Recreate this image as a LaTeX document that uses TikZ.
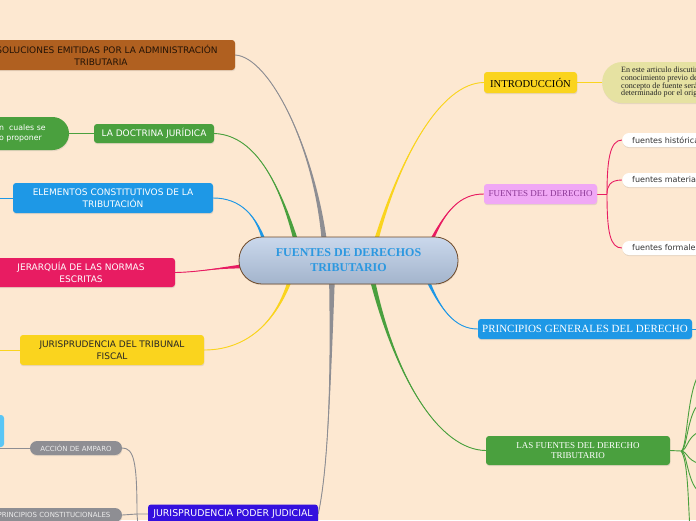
\documentclass[tikz,border=0pt]{standalone}
\usepackage{fontspec}
\setmainfont{Liberation Serif}
\newfontfamily\mmsans{DejaVu Sans}
\usetikzlibrary{calc,shadows}

\definecolor{paperpeach}{RGB}{253,232,209}
\definecolor{mmgray}{RGB}{142,142,147}
\definecolor{mmgreen}{RGB}{74,160,62}
\definecolor{mmblue}{RGB}{30,152,230}
\definecolor{mmpink}{RGB}{232,28,98}
\definecolor{mmyellow}{RGB}{250,212,30}
\definecolor{mmbrown}{RGB}{176,96,32}
\definecolor{mmindigo}{RGB}{52,16,222}
\definecolor{mmlilac}{RGB}{240,168,245}
\definecolor{mmkhaki}{RGB}{230,226,162}
\definecolor{mmsky}{RGB}{90,198,245}
\definecolor{hubtop}{RGB}{202,216,236}
\definecolor{hubbot}{RGB}{163,180,204}
\definecolor{hubline}{RGB}{110,74,42}
\definecolor{hubtext}{RGB}{44,152,224}
\definecolor{lilactext}{RGB}{140,56,150}

\pgfdeclarelayer{paper}
\pgfdeclarelayer{links}
\pgfsetlayers{paper,links,main}

% tapered branch: colour, root, half width, control 1, control 2, target
\newcommand\twig[6]{%
  \fill[#1] ($(#2)+(#3)$) .. controls #4 and #5 .. (#6) .. controls #5 and #4 .. ($(#2)-(#3)$) -- cycle;
  \draw[#1, line width=0.9pt] (#2) .. controls #4 and #5 .. (#6);}

\begin{document}
\begin{tikzpicture}[x=1pt, y=-1pt,
    softshadow/.style={drop shadow={shadow xshift=0.4pt, shadow yshift=-1.2pt, opacity=0.18}},
    topic/.style={rounded corners=3pt, inner sep=0pt, align=center, text=white, softshadow,
      font=\mmsans\fontsize{9}{12}\selectfont},
    sertopic/.style={topic, font=\fontsize{9}{10.5}\selectfont},
    pill/.style={rounded corners=7pt, inner sep=0pt, fill=mmgray, text=white!92!black, softshadow,
      minimum height=14pt, font=\mmsans\fontsize{7}{8}\selectfont},
    leaf/.style={fill=white, rounded corners=7pt, inner xsep=10pt, inner ysep=0pt, minimum height=14pt,
      anchor=west, text=black!80, softshadow, font=\mmsans\fontsize{8}{9}\selectfont},
    link/.style={line width=0.9pt}
  ]
    \useasboundingbox (0,0) rectangle (696,520);
    \begin{pgfonlayer}{paper}
      \fill[paperpeach] (0,0) rectangle (696,520);
    \end{pgfonlayer}

    % --- centro ---
    \node[rounded corners=23pt, minimum width=219pt, minimum height=47pt, inner sep=0pt,
      top color=hubtop, bottom color=hubbot, draw=hubline, line width=0.8pt, softshadow,
      align=center, text=hubtext, font=\bfseries\fontsize{12}{15}\selectfont]
      (hub) at (348.5,260.5) {FUENTES DE DERECHOS\\TRIBUTARIO};

    % --- izquierda ---
    \node[topic, fill=mmbrown, text=black!80!mmbrown, minimum width=268pt, minimum height=30pt]
      (resol) at (101,55) {RESOLUCIONES EMITIDAS POR LA ADMINISTRACIÓN\\TRIBUTARIA};
    \node[topic, fill=mmgreen, minimum width=120pt, minimum height=19pt]
      (doctrina) at (154,133.5) {LA DOCTRINA JURÍDICA};
    \node[rounded corners=16.5pt, fill=mmgreen, text=white, softshadow, inner sep=0pt,
      minimum height=33pt, text width=114pt, align=left, font=\mmsans\fontsize{7.8}{10}\selectfont]
      (cuales) at (12,133.5) {\hspace*{44pt}n\ \ cuales se\\\hspace*{44pt}o proponer};
    \node[topic, fill=mmblue, minimum width=200pt, minimum height=30pt]
      (elementos) at (113,198) {ELEMENTOS CONSTITUTIVOS DE LA\\TRIBUTACIÓN};
    \node[topic, fill=mmpink, minimum width=188pt, minimum height=29pt]
      (jerarquia) at (81,272.5) {JERARQUÍA DE LAS NORMAS\\ESCRITAS};
    \node[topic, fill=mmyellow, text=black!85, minimum width=184pt, minimum height=30pt]
      (tribunal) at (112,350) {JURISPRUDENCIA DEL TRIBUNAL\\FISCAL};
    \node[topic, fill=mmindigo, minimum width=170pt, minimum height=19pt,
      font=\mmsans\fontsize{9.4}{11}\selectfont]
      (judicial) at (233,514) {JURISPRUDENCIA PODER JUDICIAL};
    \node[pill, minimum width=92pt] (amparo) at (76,448) {ACCIÓN DE AMPARO};
    \node[pill, minimum width=136pt] (constit) at (54,515) {PRINCIPIOS CONSTITUCIONALES};
    \node[fill=mmsky, rounded corners=3pt, minimum width=44pt, minimum height=32pt, inner sep=0pt]
      (celeste) at (-18,431) {};

    % --- derecha ---
    \node[sertopic, fill=mmyellow, text=black, minimum width=93pt, minimum height=21pt,
      font=\fontsize{10.6}{12}\selectfont]
      (intro) at (530.5,82.5) {INTRODUCCIÓN};
    \node[rounded corners=20pt, fill=mmkhaki, text=black!85, softshadow, inner xsep=19pt, inner ysep=0pt,
      minimum height=41pt, anchor=west, align=left, font=\fontsize{8.1}{7.7}\selectfont]
      (resumen) at (602,82.5) {En este articulo discutir\\conocimiento previo de\\concepto de fuente será\\determinado por el orig};
    \node[sertopic, fill=mmlilac, text=lilactext, minimum width=113pt, minimum height=20pt]
      (fuentes) at (540.5,194) {FUENTES DEL DERECHO};
    \node[leaf] (historicas) at (622,140) {fuentes históricas};
    \node[leaf] (materiales) at (622,180) {fuentes materiales};
    \node[leaf] (formales) at (622,248) {fuentes formales};
    \node[sertopic, fill=mmblue, minimum width=214pt, minimum height=20pt,
      font=\fontsize{11}{12}\selectfont]
      (principios) at (585,329) {PRINCIPIOS GENERALES DEL DERECHO};
    \node[sertopic, fill=mmgreen, minimum width=184pt, minimum height=29pt]
      (lasfuentes) at (578,450.5) {LAS FUENTES DEL DERECHO\\TRIBUTARIO};

    % puntos de salida y extremos fuera del cuadro
    \coordinate (rResol) at (325,248);
    \coordinate (rDoctrina) at (298,248);
    \coordinate (rElementos) at (266,248);
    \coordinate (rJerarquia) at (248,266);
    \coordinate (rTribunal) at (292,274);
    \coordinate (rJudicial) at (332,274);
    \coordinate (rIntro) at (374,248);
    \coordinate (rFuentes) at (428,248);
    \coordinate (rPrincipios) at (425,274);
    \coordinate (rLasfuentes) at (371,274);
    \coordinate (offElementos) at (-8,198);
    \coordinate (offTribunal) at (-8,350);
    \coordinate (offAmparo) at (-8,448);
    \coordinate (offPrincipios) at (704,329);
    \coordinate (jJudicial) at (137,514);
    \coordinate (jFuentes) at (607,194);
    \coordinate (jLasfuentes) at (681,451);

    \begin{pgfonlayer}{links}
      % ramas principales
      \twig{mmgray}{rResol}{2.8,0}{(316,150)}{(270,57)}{resol.east}
      \twig{mmgreen}{rDoctrina}{2.7,0}{(282,190)}{(258,135)}{doctrina.east}
      \twig{mmblue}{rElementos}{2.4,0}{(258,215)}{(240,198)}{elementos.east}
      \twig{mmpink}{rJerarquia}{0,2.4}{(215,268)}{(200,272)}{jerarquia.east}
      \twig{mmyellow}{rTribunal}{2.4,0}{(275,330)}{(240,350)}{tribunal.east}
      \twig{mmgray}{rJudicial}{3,0}{(331,380)}{(328,470)}{judicial.east}
      \twig{mmyellow}{rIntro}{2.4,0}{(398,160)}{(440,83)}{intro.west}
      \twig{mmpink}{rFuentes}{2.4,0}{(445,210)}{(460,194)}{fuentes.west}
      \twig{mmblue}{rPrincipios}{2.4,0}{(440,310)}{(455,329)}{principios.west}
      \twig{mmgreen}{rLasfuentes}{2.7,0}{(395,380)}{(440,450)}{lasfuentes.west}

      % enlaces finos
      \draw[link, mmgreen] (doctrina.west) -- (cuales.east);
      \draw[link, mmblue] (elementos.west) -- (offElementos);
      \draw[link, mmyellow] (tribunal.west) -- (offTribunal);
      \draw[link, mmgray] (judicial.west) -- (jJudicial) .. controls (137,462) and (134,448) .. (amparo.east);
      \draw[link, mmgray] (jJudicial) -- (constit.east);
      \draw[link, mmgray] (jJudicial) -- ++(1,12);
      \draw[link, mmgray] (amparo.west) -- (offAmparo);
      \draw[link, mmyellow] (intro.east) -- (resumen.west);
      \draw[link, mmblue] (principios.east) -- (offPrincipios);
      \draw[link, mmpink] (fuentes.east) -- (jFuentes);
      \draw[link, mmpink] (jFuentes) .. controls (607,160) and (610,140) .. (historicas.west);
      \draw[link, mmpink] (jFuentes) .. controls (607,186) and (610,180) .. (materiales.west);
      \draw[link, mmpink] (jFuentes) .. controls (607,232) and (610,248) .. (formales.west);
      \draw[link, mmgreen] (lasfuentes.east) -- (jLasfuentes);
      \foreach \yy in {370,401,431,464,494} {
        \draw[link, mmgreen] (jLasfuentes) .. controls (688,451) and (687,\yy) .. (706,\yy);
      }
      \draw[link, mmgreen] (jLasfuentes) .. controls (688,460) and (688,500) .. (690,530);
    \end{pgfonlayer}
\end{tikzpicture}
\end{document}
